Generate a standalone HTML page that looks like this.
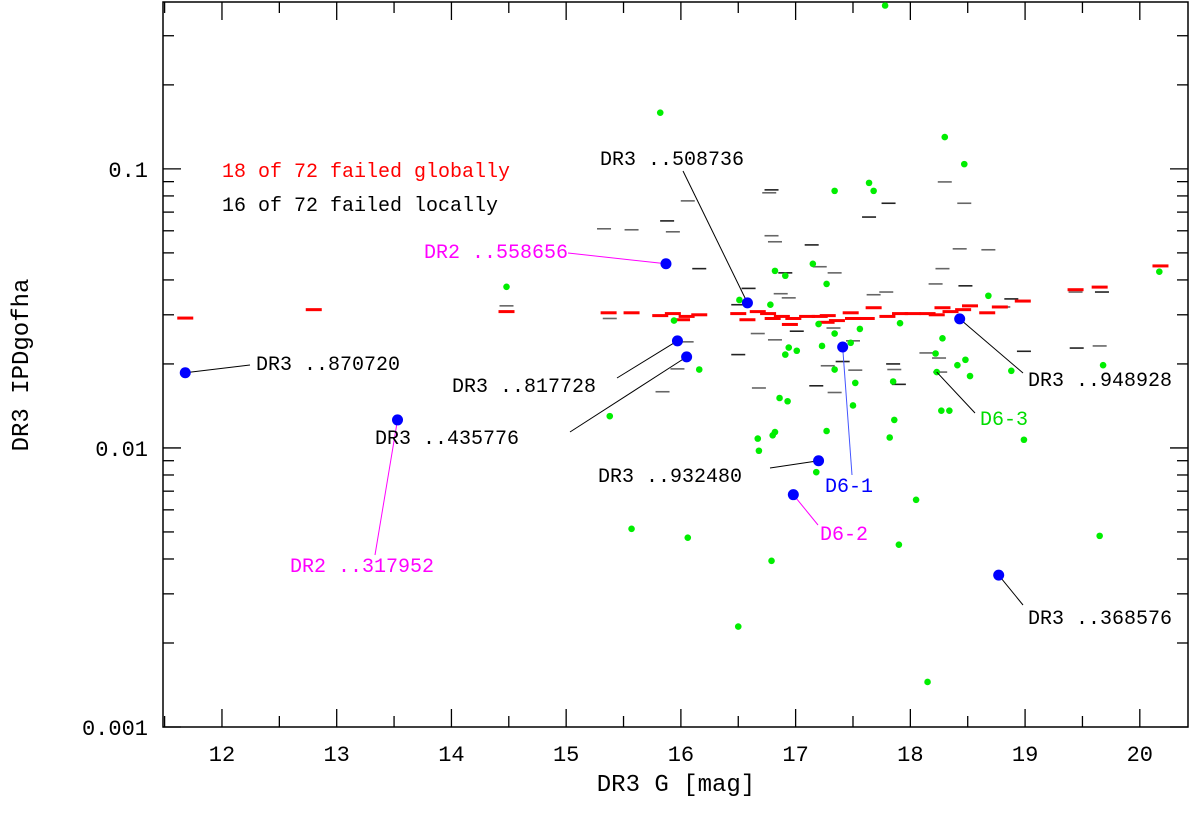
<!DOCTYPE html>
<html><head><meta charset="utf-8"><style>
html,body{margin:0;padding:0;background:#fff;}
svg{display:block;font-family:"Liberation Mono","DejaVu Sans Mono",monospace;}
</style></head><body>
<svg id="chart" width="1200" height="817" viewBox="0 0 1200 817" xmlns="http://www.w3.org/2000/svg">
<g id="plot"></g>
</svg>
<script>
const xMin = 11.486, xMax = 20.42;
const yLogMin = -3, yLogMax = -0.402;
const xTickLabels = [12,13,14,15,16,17,18,19,20];
const yTickLabels = ["0.001","0.01","0.1"];
const yTickValues = [0.001,0.01,0.1];

const greenMag = [17.78,15.82,18.30,18.47,17.64,17.68,17.34,14.48,17.15,16.82,16.91,17.27,18.68,16.51,16.78,15.94,17.20,17.91,17.56,17.34,18.28,17.48,17.23,16.94,17.01,16.91,18.22,18.48,18.41,18.88,18.23,18.52,17.34,16.16,17.52,17.85,16.86,16.93,17.50,15.38,18.27,18.34,17.86,17.27,16.82,16.80,16.67,17.82,16.68,17.18,18.05,15.57,16.06,17.90,16.79,16.50,18.15,20.17,19.68,19.65,18.99];
const greenVal = [0.385,0.159,0.130,0.104,0.0891,0.0834,0.0834,0.0378,0.0457,0.0431,0.0414,0.0387,0.0351,0.0339,0.0326,0.0286,0.0278,0.0280,0.0267,0.0257,0.0247,0.0238,0.0232,0.0229,0.0223,0.0216,0.0218,0.0207,0.0198,0.0189,0.0187,0.0181,0.0191,0.0191,0.0171,0.0173,0.0151,0.0147,0.0142,0.0130,0.0136,0.0136,0.0126,0.0115,0.0114,0.0111,0.0108,0.0109,0.00977,0.00819,0.00652,0.00513,0.00477,0.00450,0.00394,0.00229,0.00145,0.0428,0.0198,0.00484,0.0107];

const grayMag = [16.79,16.77,16.06,17.81,18.30,18.47,15.88,15.57,15.93,17.64,16.79,16.82,17.14,18.43,18.68,16.16,17.21,17.34,16.91,18.28,18.22,18.48,17.68,17.79,16.59,16.87,16.94,16.50,15.38,18.81,18.88,16.67,16.82,17.01,17.33,17.50,16.50,18.14,18.25,18.99,16.05,15.97,17.41,17.28,17.52,17.85,17.86,18.26,17.90,15.84,16.68,17.18,17.34,14.48,19.45,19.65,19.44,19.67,15.33];
const grayVal = [0.0841,0.0821,0.0768,0.0753,0.0898,0.0753,0.0651,0.0605,0.0595,0.0672,0.0576,0.0548,0.0534,0.0517,0.0513,0.0439,0.0446,0.0424,0.0424,0.0439,0.0387,0.0381,0.0354,0.0362,0.0373,0.0357,0.0345,0.0326,0.0291,0.0320,0.0342,0.0257,0.0244,0.0262,0.0269,0.0242,0.0216,0.0219,0.0210,0.0222,0.0240,0.0192,0.0204,0.0197,0.0190,0.0200,0.0191,0.0187,0.0169,0.0159,0.0164,0.0167,0.0158,0.0323,0.0228,0.0232,0.0362,0.0362,0.0610];

const redMag = [11.68,12.80,14.48,15.37,15.57,15.82,15.93,16.05,16.16,16.01,16.50,16.67,16.58,16.76,16.88,16.80,16.98,16.95,17.10,17.21,17.28,17.27,17.36,17.48,17.50,17.62,17.68,17.80,17.91,18.02,18.15,18.28,18.23,18.35,18.46,18.52,18.67,18.78,18.98,19.44,19.65,20.18];
const redVal = [0.0292,0.0313,0.0308,0.0305,0.0305,0.0298,0.0303,0.0296,0.0300,0.0288,0.0303,0.0308,0.0288,0.0303,0.0296,0.0291,0.0291,0.0277,0.0296,0.0296,0.0298,0.0282,0.0286,0.0305,0.0291,0.0291,0.0318,0.0296,0.0303,0.0303,0.0303,0.0318,0.0300,0.0308,0.0313,0.0323,0.0305,0.0320,0.0336,0.0369,0.0377,0.0449];

const blueNames = ["DR3 ..870720","DR2 ..317952","DR2 ..558656","DR3 ..508736","DR3 ..817728","DR3 ..435776","DR3 ..932480","D6-2","D6-1","DR3 ..948928","DR3 ..368576"];
const blueMag = [11.68,13.53,15.87,16.58,15.97,16.05,17.20,16.98,17.41,18.43,18.77];
const blueVal = [0.0186,0.0126,0.0457,0.0331,0.0242,0.0212,0.0090,0.0068,0.0230,0.0290,0.0035];

const L=163,R=1188,T=2,B=727;
function sx(m){return L+(m-xMin)/(xMax-xMin)*(R-L);}
function sy(v){return B-(Math.log10(v)-yLogMin)/(yLogMax-yLogMin)*(B-T);}
const NS="http://www.w3.org/2000/svg";
const g=document.getElementById('plot');
function el(tag,attrs,parent){const e=document.createElementNS(NS,tag);for(const k in attrs)e.setAttribute(k,attrs[k]);(parent||g).appendChild(e);return e;}

const frame=el('rect',{x:L,y:T,width:R-L,height:B-T,fill:'none',stroke:'#000','stroke-width':1.5});



for(let m=11.5;m<=20.4;m+=0.5){
  const x=sx(m);const major=Math.abs(m-Math.round(m))<0.01;const len=major?18:11;
  const t1=el('line',{x1:x,y1:B,x2:x,y2:B-len,stroke:'#000','stroke-width':1.3});
  
  
  const t2=el('line',{x1:x,y1:T,x2:x,y2:T+len,stroke:'#000','stroke-width':1.3});
  
  
}
xTickLabels.forEach(v=>{
  const t=el('text',{x:sx(v),y:761,'font-size':22,'text-anchor':'middle',fill:'#000'});
  t.textContent=v;
  
  
});
for(let d=-3;d<=-1;d++){
  for(let k=1;k<=9;k++){
    const v=k*Math.pow(10,d);if(v>Math.pow(10,yLogMax))continue;
    const y=sy(v);const len=k===1?18:11;
    const a=el('line',{x1:L,y1:y,x2:L+len,y2:y,stroke:'#000','stroke-width':1.3});
    
    
    const b=el('line',{x1:R,y1:y,x2:R-len,y2:y,stroke:'#000','stroke-width':1.3});
    
    
  }
}
yTickLabels.forEach((s,i)=>{
  const t=el('text',{x:148,y:sy(yTickValues[i])+8,'font-size':22,'text-anchor':'end',fill:'#000'});
  t.textContent=s;
  
  
});
const xl=el('text',{x:676,y:791,'font-size':24,'text-anchor':'middle',fill:'#000'});
xl.textContent='DR3 G [mag]';


const yl=el('text',{x:0,y:0,'font-size':24,'text-anchor':'middle',fill:'#000',transform:'translate(28,365) rotate(-90)'});
yl.textContent='DR3 IPDgofha';



const lg1=el('text',{x:222,y:177,'font-size':20,fill:'#ff0000'});
lg1.textContent='18 of 72 failed globally';


const lg2=el('text',{x:222,y:211,'font-size':20,fill:'#000'});
lg2.textContent='16 of 72 failed locally';



grayMag.forEach((m,i)=>{
  const x=sx(m),y=sy(grayVal[i]);
  const d=el('line',{x1:x-7,y1:y,x2:x+7,y2:y,stroke:i%3===0?'#222':'#666','stroke-width':1.6});
  
  
});
redMag.forEach((m,i)=>{
  const x=sx(m),y=sy(redVal[i]);
  const d=el('rect',{x:x-8,y:y-1.5,width:16,height:3,fill:'#ff0000'});
  
  
});
greenMag.forEach((m,i)=>{
  const c=el('circle',{cx:sx(m),cy:sy(greenVal[i]),r:3.3,fill:'#00ee00'});
  
  
});
const annX=[256,290,568,600,452,375,598,820,825,1028,1028];
const annY=[370,572,258,165,392,444,482,540,492,386,624];
const annAnchor=['start','start','end','start','start','start','start','start','start','start','start'];
const annLX=[250,375,568,683,617,570,770,818,852,1023,1023];
const annLY=[365,555,253,171,378,432,468,525,475,373,605];
const annColor=['#000','#ff00ff','#ff00ff','#000','#000','#000','#000','#ff00ff','#0000ff','#000','#000'];
blueMag.forEach((m,i)=>{
  const x=sx(m),y=sy(blueVal[i]);
  const ln=el('line',{x1:x,y1:y,x2:annLX[i],y2:annLY[i],stroke:annColor[i]==='#0000ff'?'#4455ff':annColor[i],'stroke-width':1});
  
  
  const t=el('text',{x:annX[i],y:annY[i],'font-size':20,'text-anchor':annAnchor[i],fill:annColor[i]});
  t.textContent=blueNames[i];
  
  
});
{
  const x=sx(18.23),y=sy(0.0187);
  const ln=el('line',{x1:x,y1:y,x2:975,y2:413,stroke:'#000','stroke-width':1});
  
  
  const t=el('text',{x:980,y:425,'font-size':20,fill:'#00dd00'});
  t.textContent='D6-3';
  
  
}
blueMag.forEach((m,i)=>{
  const c=el('circle',{cx:sx(m),cy:sy(blueVal[i]),r:5.5,fill:'#0000ff'});
  
  
});
</script>
</body></html>
